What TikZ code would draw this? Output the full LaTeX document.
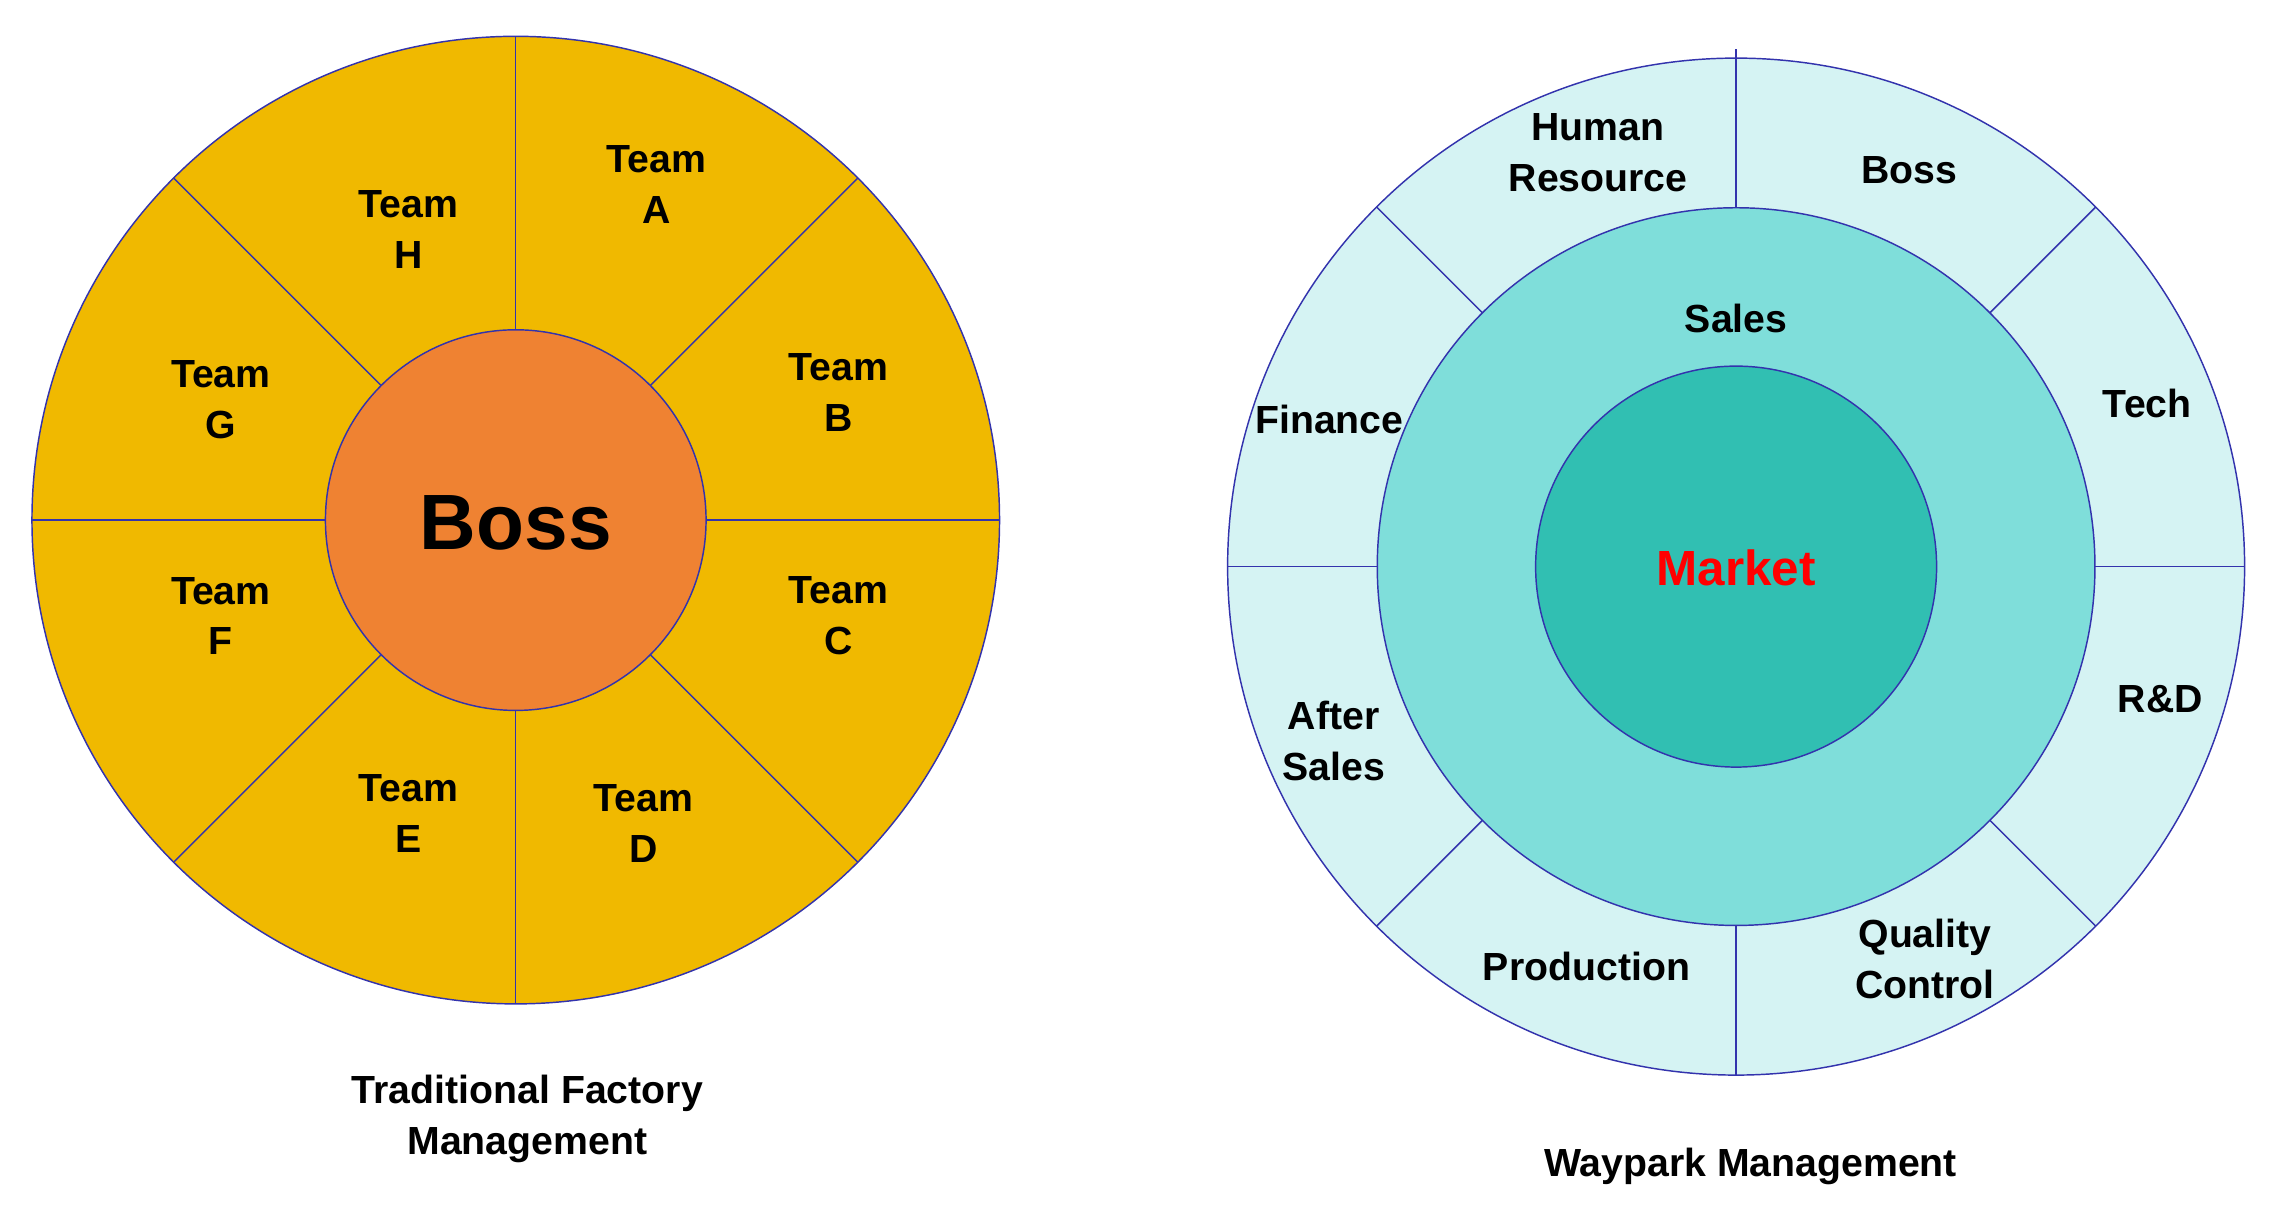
\documentclass[tikz,border=0pt]{standalone}
\usepackage{fontspec}
\setmainfont{Liberation Sans}
\usetikzlibrary{calc}
\begin{document}
\begin{tikzpicture}[x=1pt,y=-1pt,
  edge/.style={draw=blue!60!black!80, line width=1pt},
  lbl/.style={font=\bfseries\fontsize{27}{35}\selectfont, align=center, inner sep=0},
  ttl/.style={font=\bfseries\fontsize{27}{35}\selectfont, align=center, inner sep=0}]
\definecolor{gold}{HTML}{F0B900}
\definecolor{orng}{HTML}{EF8232}
\definecolor{c1}{HTML}{D5F3F3}
\definecolor{c2}{HTML}{7FDEDA}
\definecolor{c3}{HTML}{31BFB2}
\useasboundingbox (0,0) rectangle (1568,832);
\fill[white] (0,0) rectangle (1568,832);
% left
\coordinate (L) at (355,358);
\draw[edge, fill=gold] (L) circle (333);
\foreach \a in {0,45,...,315} \draw[edge] ($(L)+(\a:131)$) -- ($(L)+(\a:333)$);
\node[edge, circle, fill=orng, minimum size=262, inner sep=0] (boss) at (L) {};
\node[font=\bfseries\fontsize{54}{60}\selectfont] at (355,360) {Boss};
\node[lbl] (ta) at (452,127) {Team\\A};
\node[lbl] (tb) at (577,270) {Team\\B};
\node[lbl] (tc) at (577,424) {Team\\C};
\node[lbl] (td) at (443,567) {Team\\D};
\node[lbl] (te) at (281,560) {Team\\E};
\node[lbl] (tf) at (152,424) {Team\\F};
\node[lbl] (tg) at (152,275) {Team\\G};
\node[lbl] (th) at (281,158) {Team\\H};
\node[ttl] (t1) at (363,770) {Traditional Factory\\Management};
% right
\coordinate (R) at (1195,390);
\draw[edge, fill=c1] (R) circle (350);
\foreach \a in {0,45,...,315} \draw[edge] ($(R)+(\a:247)$) -- ($(R)+(\a:350)$);
\draw[edge] ($(R)+(270:247)$) -- ($(R)+(270:356)$);
\node[edge, circle, fill=c2, minimum size=494, inner sep=0] (sales) at (R) {};
\node[edge, circle, fill=c3, minimum size=276, inner sep=0] (mkt) at (R) {};
\node[lbl] at (1195,219) {Sales};
\node[lbl, text=red, font=\bfseries\fontsize{34}{40}\selectfont] at (1195,391) {Market};
\node[lbl] at (1100,105) {Human\\Resource};
\node[lbl] at (1314,117) {Boss};
\node[lbl] at (1478,278) {Tech};
\node[lbl] at (1487,481) {R\&D};
\node[lbl] at (1325,660) {Quality\\Control};
\node[lbl] at (1092,665) {Production};
\node[lbl] at (918,510) {After\\Sales};
\node[lbl] at (915,289) {Finance};
\node[ttl] (t2) at (1205,803) {Waypark Management};
\end{tikzpicture}
\end{document}
